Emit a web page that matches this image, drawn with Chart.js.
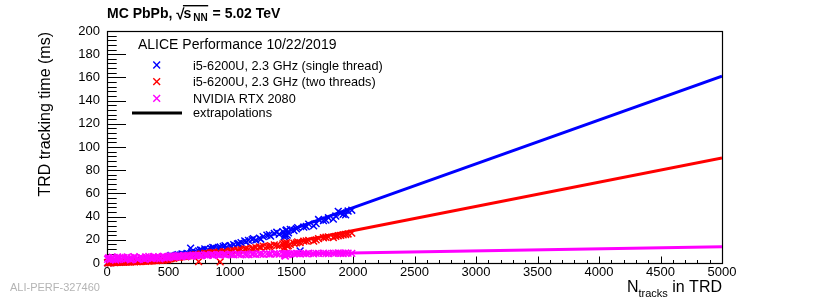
<!DOCTYPE html>
<html><head><meta charset="utf-8">
<script src="https://cdn.jsdelivr.net/npm/chart.js@4"></script>
<style>html,body{margin:0;padding:0;background:#fff;overflow:hidden}canvas{display:block}</style>
</head><body>
<canvas id="c" width="830" height="302"></canvas>
<script>
// ---------- data ----------
const nTracks = [5,15,25,35,45,60,75,90,105,120,135,150,165,180,195,210,225,240,255,270,285,300,315,330,345,360,375,390,405,420,435,450,465,480,495,510,525,540,555,570,585,600,620,640,660,680,700,720,745,770,795,820,845,870,895,920,945,970,1000,1030,1060,1090,1120,1150,1180,1210,1240,1270,1300,1330,1360,1400,1430,1450,1460,1475,1490,1520,1550,1570,1600,1640,1680,1720,1760,1800,1840,1880,1920,1960,1990,
  10,30,50,70,85,100,130,160,190,220,250,280,310,340,370,400,430,460,490,520,550,580,610,650,690,730,760,810,860,910,960,1010,1070,1130,1190,1250,1320,1380,1440,1445,1455,1465,1540,1620,1700,1780,1860,1900,1940];
const timeSingle = [0.3,0.5,0.4,0.6,0.7,0.6,0.9,1.0,0.8,1.2,1.1,1.3,1.5,1.4,1.6,1.9,1.7,2.0,2.2,2.1,2.4,2.6,2.5,2.8,3.0,2.9,3.3,3.5,3.4,3.8,3.7,4.1,4.3,4.2,4.6,5.2,6.0,5.6,6.4,6.8,6.2,7.0,7.5,7.2,7.9,12.8,8.5,9.0,10.5,11.0,12.2,11.6,12.5,13.0,12.4,13.8,14.2,13.5,15.0,15.8,16.4,17.5,19.0,19.5,20.2,19.8,21.5,22.8,24.0,23.2,25.5,24.8,27.0,23.5,28.5,26.0,29.0,28.0,30.5,10.5,31.0,33.5,32.0,37.5,36.5,39.0,37.8,44.5,42.0,44.8,45.5,
  0.4,0.5,0.8,0.7,1.0,0.9,1.3,1.2,1.7,1.8,2.3,2.2,2.7,2.9,3.1,3.6,3.5,4.4,4.5,6.5,5.4,7.2,7.8,8.2,9.5,8.8,11.2,10.2,13.5,12.8,15.0,14.2,16.8,18.2,21.0,20.5,24.5,26.5,22.5,25.0,28.0,24.0,29.5,31.5,34.0,37.0,40.5,43.0,41.5];
const timeTwo = [0.2,0.3,0.2,0.4,0.5,0.4,0.6,0.7,0.5,0.8,0.7,0.9,1.0,0.9,1.1,1.2,1.1,1.3,1.4,1.3,1.5,1.6,1.5,1.8,1.9,1.8,2.0,2.2,2.1,2.4,2.3,2.6,2.8,2.7,3.0,3.6,4.4,4.0,4.8,5.2,4.6,5.5,5.8,5.4,6.2,6.0,6.8,7.2,1.2,7.8,8.4,8.0,8.8,9.2,8.6,1.0,9.6,9.0,10.2,10.6,11.0,11.5,12.2,11.8,12.8,13.2,13.8,14.5,14.0,15.0,15.6,14.8,16.5,12.5,17.5,15.0,16.0,17.0,18.2,17.6,18.8,19.5,18.9,21.0,21.8,22.5,22.0,23.5,24.2,25.0,25.8,
  0.3,0.3,0.5,0.6,0.6,0.7,0.9,1.0,1.0,1.3,1.2,1.6,1.7,1.7,2.1,2.0,2.5,2.5,2.9,3.9,4.6,5.0,5.6,5.9,6.5,6.9,7.5,7.6,8.9,9.4,9.8,10.4,10.8,12.0,12.5,13.5,14.2,15.2,13.0,17.0,16.0,14.5,17.4,19.0,20.0,22.2,23.0,23.8,24.6];
const timeGPU = [3.2,4.5,2.8,3.9,5.0,3.4,4.2,2.9,4.8,3.6,4.4,3.1,5.2,3.8,4.6,3.3,4.9,4.0,3.5,5.1,4.3,3.7,5.3,4.1,4.7,3.9,5.4,4.4,4.0,5.2,4.6,5.5,4.2,5.0,5.6,4.8,5.8,5.2,6.0,5.5,6.2,5.7,6.4,5.9,6.6,6.1,6.8,6.3,6.9,6.5,7.0,6.6,7.2,6.8,7.3,6.9,7.4,7.0,7.5,7.1,7.6,7.2,7.7,7.3,7.8,7.4,7.9,7.5,7.9,7.6,8.0,7.7,8.1,6.0,8.2,7.5,7.8,8.0,8.3,7.9,8.2,8.4,8.0,8.3,8.5,8.1,8.4,8.6,8.2,8.5,8.3,
  4.0,3.5,4.4,2.6,5.3,3.8,4.9,4.1,2.7,5.5,3.0,4.5,3.2,5.6,4.2,4.8,3.6,5.8,4.4,6.0,5.0,6.5,5.4,6.2,5.8,6.6,6.4,7.0,6.7,7.1,7.2,7.3,7.4,7.0,7.6,7.7,7.8,8.0,7.9,6.5,8.1,7.2,8.2,8.0,8.3,8.2,8.5,8.3,8.6];
const fitRange = [1500, 5000];
const fitSingle = [28.7, 161];
const fitTwo = [17.5, 90.5];
const fitGPU = [7.7, 14];
const xTickLabels = [0,500,1000,1500,2000,2500,3000,3500,4000,4500,5000];
const yTickLabels = [0,20,40,60,80,100,120,140,160,180,200];
const seriesNames = ['i5-6200U, 2.3 GHz (single thread)','i5-6200U, 2.3 GHz (two threads)','NVIDIA RTX 2080','extrapolations'];

// ---------- styles ----------
const BLUE = '#0000ff', RED = '#ff0000', MAG = '#ff00ff';
const FONT = '"Liberation Sans", Arial, Helvetica, sans-serif';
const pts = (xs, ys) => xs.map((x, i) => ({x: x, y: ys[i]}));

function scatterDs(label, ys, color, order) {
  return {type: 'scatter', label, data: pts(nTracks, ys), order,
    pointStyle: 'crossRot', pointRadius: 4.8, pointBorderWidth: 1.5,
    borderColor: color, backgroundColor: color, showLine: false, clip: false};
}
function fitDs(ys, color) {
  return {type: 'line', label: 'fit', data: pts(fitRange, ys), order: 0,
    borderColor: color, borderWidth: 3, pointRadius: 0, fill: false, tension: 0};
}

const framePlugin = {
  id: 'frame',
  beforeDatasetsDraw(chart) {
    const {ctx, chartArea: a, scales: {x, y}} = chart;
    ctx.save();
    ctx.strokeStyle = '#000';
    ctx.lineWidth = 1;
    const L = Math.round(a.left) + 0.5, B = Math.round(a.bottom) + 0.5;
    for (let v = 0; v <= 200; v += 4) {
      const py = Math.round(y.getPixelForValue(v)) + 0.5;
      const len = (v % 20 === 0) ? 18.5 : 9.2;
      ctx.beginPath(); ctx.moveTo(L, py); ctx.lineTo(L + len, py); ctx.stroke();
    }
    for (let v = 0; v <= 5000; v += 100) {
      const px = Math.round(x.getPixelForValue(v)) + 0.5;
      const len = (v % 500 === 0) ? 7 : 3.5;
      ctx.beginPath(); ctx.moveTo(px, B); ctx.lineTo(px, B - len); ctx.stroke();
    }
    ctx.lineWidth = 1.2;
    ctx.strokeRect(L, Math.round(a.top) + 0.5, Math.round(a.right) - Math.round(a.left), Math.round(a.bottom) - Math.round(a.top));
    ctx.restore();
  }
};

const textPlugin = {
  id: 'texts',
  afterDraw(chart) {
    const {ctx, chartArea: a} = chart;
    ctx.save();
    ctx.fillStyle = '#000';
    ctx.textAlign = 'left';
    ctx.textBaseline = 'alphabetic';
    // title
    let tx = 107, tb = 17.5;
    ctx.font = 'bold 14px ' + FONT;
    const p1 = 'MC PbPb, ';
    ctx.fillText(p1, tx, tb); tx += ctx.measureText(p1).width;
    ctx.font = 'bold 15px ' + FONT;
    ctx.fillText('\u221A', tx, tb + 1); tx += ctx.measureText('\u221A').width - 1;
    const olStart = tx;
    ctx.font = 'bold 14px ' + FONT;
    ctx.fillText('s', tx, tb); tx += ctx.measureText('s').width + 2;
    ctx.font = 'bold 10px ' + FONT;
    ctx.fillText('NN', tx, tb + 3.5); tx += ctx.measureText('NN').width + 1;
    ctx.fillRect(olStart - 0.5, tb - 12.5, tx - olStart, 1.4);
    ctx.font = 'bold 14px ' + FONT;
    ctx.fillText(' = 5.02 TeV', tx, tb);

    // y title
    ctx.save();
    ctx.font = '16px ' + FONT;
    ctx.translate(45.5, a.top + 1);
    ctx.rotate(-Math.PI / 2);
    ctx.textAlign = 'right';
    ctx.textBaseline = 'middle';
    ctx.fillText('TRD tracking time (ms)', 0, 0);
    ctx.restore();

    // x title
    ctx.font = '16px ' + FONT;
    const wN = ctx.measureText('N').width;
    const wRest = ctx.measureText(' in TRD').width;
    ctx.font = '11px ' + FONT;
    const wSub = ctx.measureText('tracks').width;
    let xx = a.right - (wN + wSub + wRest);
    ctx.font = '16px ' + FONT;
    ctx.fillText('N', xx, 292); xx += wN;
    ctx.font = '11px ' + FONT;
    ctx.fillText('tracks', xx, 297); xx += wSub;
    ctx.font = '16px ' + FONT;
    ctx.fillText(' in TRD', xx, 292);

    // legend
    ctx.font = '14px ' + FONT;
    ctx.fillText('ALICE Performance 10/22/2019', 138, 48.5);
    ctx.font = '12.7px ' + FONT;
    const colors = [BLUE, RED, MAG];
    const my = [65, 81.7, 98.3];
    for (let i = 0; i < 3; i++) {
      ctx.strokeStyle = colors[i];
      ctx.lineWidth = 1.4;
      const cx = 156.7, cy = my[i], r = 3.4;
      ctx.beginPath();
      ctx.moveTo(cx - r, cy - r); ctx.lineTo(cx + r, cy + r);
      ctx.moveTo(cx - r, cy + r); ctx.lineTo(cx + r, cy - r);
      ctx.stroke();
      ctx.fillStyle = '#000';
      ctx.fillText(seriesNames[i], 193, cy + 4.5);
    }
    ctx.strokeStyle = '#000';
    ctx.lineWidth = 3;
    ctx.beginPath(); ctx.moveTo(132, 113); ctx.lineTo(182, 113); ctx.stroke();
    ctx.fillText(seriesNames[3], 193, 116.5);

    // watermark
    ctx.font = '11px ' + FONT;
    ctx.fillStyle = '#b4b4b4';
    ctx.fillText('ALI-PERF-327460', 10, 291);
    ctx.restore();
  }
};

new Chart(document.getElementById('c'), {
  data: {
    datasets: [
      fitDs(fitGPU, MAG), fitDs(fitTwo, RED), fitDs(fitSingle, BLUE),
      scatterDs(seriesNames[2], timeGPU, MAG, 1),
      scatterDs(seriesNames[1], timeTwo, RED, 2),
      scatterDs(seriesNames[0], timeSingle, BLUE, 3)
    ]
  },
  options: {
    responsive: false,
    animation: false,
    devicePixelRatio: 1,
    layout: {padding: {left: 0, right: 108, top: 31, bottom: 0}},
    plugins: {legend: {display: false}, tooltip: {enabled: false}, title: {display: false}},
    scales: {
      x: {
        type: 'linear', min: 0, max: 5000,
        afterFit: s => { s.height = 39; },
        afterBuildTicks: s => { s.ticks = xTickLabels.map(v => ({value: v})); },
        grid: {display: false, drawTicks: false},
        border: {display: false},
        ticks: {color: '#000', font: {family: FONT, size: 13}, padding: 2, maxRotation: 0, autoSkip: false,
                callback: v => String(v)}
      },
      y: {
        type: 'linear', min: 0, max: 200,
        afterFit: s => { s.width = 107; },
        afterBuildTicks: s => { s.ticks = yTickLabels.map(v => ({value: v})); },
        grid: {display: false, drawTicks: false},
        border: {display: false},
        ticks: {color: '#000', font: {family: FONT, size: 13}, padding: 7, callback: v => String(v)}
      }
    }
  },
  plugins: [framePlugin, textPlugin]
});
</script>
</body></html>
